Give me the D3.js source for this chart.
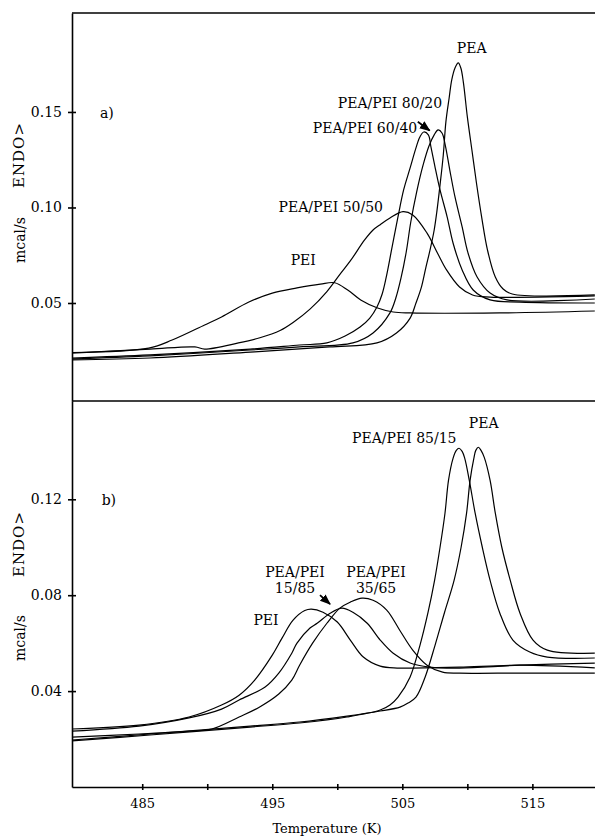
<!DOCTYPE html>
<html>
<head>
<meta charset="utf-8">
<script src="https://cdn.jsdelivr.net/npm/d3@7"></script>
<style>
  body { margin: 0; background: #fff; }
  svg { display: block; }
  text { font-family: "DejaVu Serif", "Liberation Serif", serif; fill: #000; }
  .curve { fill: none; stroke: #000; stroke-width: 1.2; }
  .frame { stroke: #000; stroke-width: 1.6; }
  .axis path, .axis line { stroke: #000; stroke-width: 1.6; }
  .axis text { font-size: 14px; font-family: "DejaVu Serif", serif; }
</style>
</head>
<body>
<div id="chart"></div>
<script>
// Panel a) curves: [temperature K, heat flow mcal/s]
const peiA = [[479.6,0.0241],[485.5,0.0264],[487.3,0.0306],[489.8,0.0385],[491.1,0.0427],[493.2,0.0505],[495.0,0.0552],[496.9,0.0579],[498.7,0.0599],[499.8,0.0606],[500.8,0.0568],[501.8,0.0516],[503.1,0.0474],[504.3,0.0453],[505.6,0.0448],[512.5,0.0448],[519.8,0.0458]];
const blend5050A = [[479.6,0.0238],[485.6,0.0259],[489.05,0.0270],[489.8,0.0259],[492.4,0.0291],[494.05,0.0318],[495.6,0.0356],[496.6,0.0398],[497.9,0.0468],[499.2,0.0560],[500.2,0.0650],[501.0,0.0720],[502.1,0.0830],[502.75,0.0882],[503.3,0.0910],[504.05,0.0945],[505.05,0.0978],[505.8,0.0961],[506.9,0.0866],[507.7,0.0762],[508.4,0.0673],[509.4,0.0584],[510.4,0.0542],[511.75,0.0531],[519.8,0.0537]];
const blend6040A = [[479.6,0.0212],[485.6,0.0228],[493.3,0.0259],[497.1,0.0280],[499.2,0.0291],[500.6,0.0327],[501.75,0.0374],[502.5,0.0421],[503.05,0.0479],[503.45,0.0547],[503.75,0.0631],[504.2,0.0788],[504.65,0.0945],[505.1,0.1092],[505.6,0.1207],[506.05,0.1312],[506.35,0.1369],[506.65,0.1395],[507.0,0.1380],[507.2,0.1317],[507.5,0.1217],[507.9,0.1092],[508.45,0.0950],[508.9,0.0814],[509.6,0.0673],[510.45,0.0568],[511.75,0.0516],[514.05,0.0505],[519.8,0.0500]];
const blend8020A = [[479.6,0.0207],[485.6,0.0223],[493.3,0.0254],[497.1,0.0270],[501.2,0.0291],[502.75,0.0343],[504.05,0.0448],[504.5,0.0526],[504.9,0.0631],[505.3,0.0767],[505.65,0.0924],[506.1,0.1081],[506.6,0.1223],[507.05,0.1322],[507.45,0.1380],[507.75,0.1406],[508.05,0.1390],[508.3,0.1327],[508.65,0.1196],[509.05,0.1055],[509.6,0.0898],[510.05,0.0762],[510.75,0.0636],[511.75,0.0552],[513.05,0.0516],[519.8,0.0521]];
const peaA = [[479.6,0.0202],[485.6,0.0212],[493.3,0.0243],[499.4,0.0270],[503.05,0.0291],[504.55,0.0343],[505.6,0.0421],[506.05,0.0500],[506.45,0.0579],[506.8,0.0683],[507.15,0.0783],[507.45,0.0882],[507.65,0.0976],[507.9,0.1118],[508.15,0.1275],[508.35,0.1448],[508.6,0.1573],[508.8,0.1668],[509.05,0.1730],[509.3,0.1757],[509.5,0.1730],[509.7,0.1652],[510.0,0.1474],[510.35,0.1301],[510.7,0.1128],[511.1,0.0950],[511.55,0.0777],[512.15,0.0636],[512.75,0.0573],[513.45,0.0547],[519.8,0.0542]];

// Panel b) curves
const peiB = [[479.6,0.0242],[484.75,0.0258],[488.6,0.0292],[491.1,0.0342],[492.45,0.0383],[493.65,0.0446],[495.0,0.0550],[495.75,0.0621],[496.6,0.0696],[497.5,0.0736],[498.0,0.0742],[498.9,0.0729],[500.0,0.0688],[501.0,0.0613],[502.0,0.0542],[503.3,0.0504],[504.6,0.0496],[505.8,0.0496],[509.4,0.0500],[514.05,0.0508],[519.8,0.0497]];
const blend1585B = [[479.6,0.0233],[484.75,0.0254],[488.6,0.0288],[491.1,0.0325],[492.45,0.0363],[494.45,0.0417],[495.5,0.0475],[496.5,0.0558],[496.9,0.0600],[497.9,0.0663],[498.45,0.0683],[499.45,0.0725],[500.35,0.0746],[501.2,0.0729],[502.3,0.0683],[503.3,0.0613],[504.3,0.0558],[505.6,0.0517],[507.1,0.0500],[509.4,0.0496],[514.05,0.0508],[519.8,0.0517]];
const blend3565B = [[479.6,0.0208],[484.75,0.0221],[488.65,0.0233],[490.35,0.0242],[492.45,0.0292],[494.0,0.0333],[495.5,0.0388],[496.5,0.0446],[497.1,0.0508],[498.1,0.0600],[499.2,0.0683],[500.2,0.0746],[501.0,0.0771],[501.9,0.0788],[502.75,0.0779],[503.8,0.0738],[504.8,0.0654],[505.8,0.0571],[506.9,0.0508],[508.1,0.0479],[509.4,0.0475],[514.05,0.0475],[519.8,0.0475]];
const blend8515B = [[479.6,0.0192],[485.6,0.0217],[493.3,0.0250],[497.1,0.0267],[500.75,0.0292],[503.3,0.0321],[504.05,0.0342],[504.67,0.0375],[505.59,0.0458],[506.36,0.0592],[506.98,0.0729],[507.48,0.0862],[507.9,0.1000],[508.28,0.1142],[508.55,0.1279],[508.9,0.1371],[509.15,0.1404],[509.36,0.1413],[509.6,0.1400],[509.8,0.1371],[510.15,0.1279],[510.6,0.1142],[511.15,0.1000],[511.75,0.0862],[512.5,0.0725],[513.5,0.0613],[514.8,0.0563],[516.15,0.0542],[519.8,0.0538]];
const peaB = [[479.6,0.0196],[485.6,0.0221],[493.3,0.0254],[497.1,0.0271],[500.75,0.0296],[503.3,0.0317],[504.82,0.0333],[505.44,0.0350],[506.05,0.0375],[506.75,0.0458],[507.52,0.0592],[508.25,0.0729],[508.98,0.0862],[509.52,0.1000],[509.94,0.1142],[510.21,0.1279],[510.5,0.1371],[510.65,0.1404],[510.85,0.1417],[511.05,0.1404],[511.3,0.1375],[511.75,0.1279],[512.15,0.1142],[512.65,0.1000],[513.3,0.0862],[514.05,0.0725],[515.05,0.0613],[516.15,0.0571],[519.8,0.0558]];

// Axis ticks
const xTicks = [485, 490, 495, 500, 505, 510, 515];
const xTickLabels = [485, 495, 505, 515];
const yTicksA = [0.05, 0.10, 0.15];
const yTicksB = [0.04, 0.08, 0.12];

// Annotations: [text, temperature, value]
const labelsA = [["PEA", 510.33, 0.1809], ["PEA/PEI 80/20", 504.05, 0.1521], ["PEA/PEI 60/40", 502.13, 0.1390], ["PEA/PEI 50/50", 499.5, 0.0976], ["PEI", 497.38, 0.0699]];
const labelsB = [["PEA", 511.26, 0.1496], ["PEA/PEI 85/15", 505.15, 0.1435], ["PEA/PEI", 502.98, 0.0875], ["35/65", 502.98, 0.0808], ["PEA/PEI", 496.75, 0.0875], ["15/85", 496.75, 0.0808], ["PEI", 494.52, 0.0675]];
const arrowA = [[506.19, 0.1449], [507.1, 0.1403]];
const arrowB = [[498.67, 0.0800], [499.44, 0.0763]];

const W = 595, H = 838;

const svg = d3.select("#chart").append("svg")
    .attr("width", W)
    .attr("height", H);

svg.append("rect").attr("width", W).attr("height", H).attr("fill", "#fff");

const defs = svg.append("defs");
defs.append("marker")
    .attr("id", "head")
    .attr("viewBox", "0 0 10 10")
    .attr("refX", 9).attr("refY", 5)
    .attr("markerWidth", 6).attr("markerHeight", 6)
    .attr("orient", "auto")
    .append("path")
    .attr("d", "M0,1 L10,5 L0,9 Z")
    .attr("fill", "#000");

// Scales
const x = d3.scaleLinear().domain([479.6, 520.2]).range([72, 600]);
const yA = d3.scaleLinear().domain([-0.0013, 0.2018]).range([401, 13]);
const yB = d3.scaleLinear().domain([0, 0.161]).range([787, 401]);

// Frame lines
svg.append("line").attr("class", "frame")
    .attr("x1", x.range()[0]).attr("x2", x.range()[1])
    .attr("y1", yA.range()[1]).attr("y2", yA.range()[1]);
svg.append("line").attr("class", "frame")
    .attr("x1", x.range()[0]).attr("x2", x.range()[1])
    .attr("y1", yA.range()[0]).attr("y2", yA.range()[0]);

// Y axes
function drawY(scale, ticks) {
    const g = svg.append("g")
        .attr("class", "axis")
        .attr("transform", `translate(${x.range()[0]},0)`)
        .call(d3.axisLeft(scale).tickValues(ticks).tickFormat(d3.format(".2f"))
            .tickSize(4).tickSizeOuter(0).tickPadding(6));
    g.selectAll(".tick line").attr("x1", 4);
}
drawY(yA, yTicksA);
drawY(yB, yTicksB);

// X axis
const xg = svg.append("g")
    .attr("class", "axis")
    .attr("transform", `translate(0,${yB.range()[0]})`)
    .call(d3.axisBottom(x).tickValues(xTicks)
        .tickFormat(d => xTickLabels.includes(d) ? d : "")
        .tickSize(3).tickSizeOuter(0).tickPadding(9));
xg.selectAll(".tick line").attr("y1", -3);
xg.selectAll("text").style("font-size", "13px");

// Curves
function drawCurves(scale, series) {
    const line = d3.line()
        .x(d => x(d[0]))
        .y(d => scale(d[1]))
        .curve(d3.curveCatmullRom.alpha(0.5));
    series.forEach(s => {
        svg.append("path").attr("class", "curve").attr("d", line(s));
    });
}
drawCurves(yA, [peiA, blend5050A, blend6040A, blend8020A, peaA]);
drawCurves(yB, [peiB, blend1585B, blend3565B, blend8515B, peaB]);

// Annotations
function drawLabels(scale, labels) {
    svg.selectAll(null).data(labels).enter().append("text")
        .attr("x", d => x(d[1]))
        .attr("y", d => scale(d[2]))
        .attr("text-anchor", "middle")
        .style("font-size", "14px")
        .text(d => d[0]);
}
drawLabels(yA, labelsA);
drawLabels(yB, labelsB);

function drawArrow(scale, pts) {
    svg.append("line")
        .attr("x1", x(pts[0][0])).attr("y1", scale(pts[0][1]))
        .attr("x2", x(pts[1][0])).attr("y2", scale(pts[1][1]))
        .attr("stroke", "#000").attr("stroke-width", 1.8)
        .attr("marker-end", "url(#head)");
}
drawArrow(yA, arrowA);
drawArrow(yB, arrowB);

// Panel tags
svg.append("text").attr("x", x(481.75)).attr("y", yA(0.1469)).style("font-size", "14px").text("a)");
svg.append("text").attr("x", x(481.88)).attr("y", yB(0.1175)).style("font-size", "14px").text("b)");

// Axis titles
function yTitle(cy1, cy2) {
    svg.append("text")
        .attr("transform", `translate(24,${cy1}) rotate(-90)`)
        .attr("text-anchor", "middle")
        .style("font-size", "15px")
        .style("letter-spacing", "1px")
        .text("ENDO>");
    svg.append("text")
        .attr("transform", `translate(25,${cy2}) rotate(-90)`)
        .attr("text-anchor", "middle")
        .style("font-size", "14px")
        .text("mcal/s");
}
yTitle(155, 240);
yTitle(544, 638);

svg.append("text")
    .attr("x", 327).attr("y", 833)
    .attr("text-anchor", "middle")
    .style("font-size", "13px")
    .text("Temperature (K)");
</script>
</body>
</html>
